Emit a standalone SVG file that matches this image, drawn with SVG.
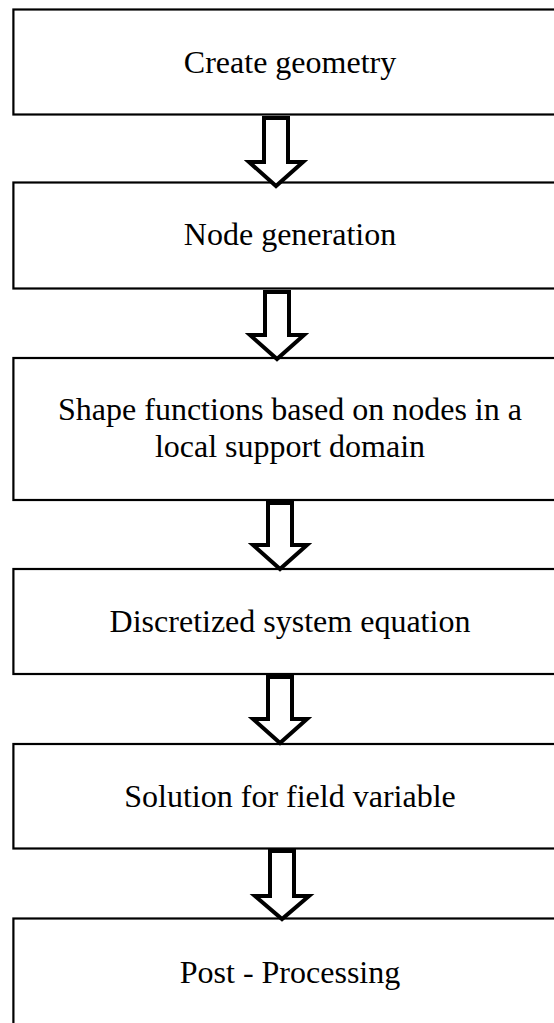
<svg xmlns="http://www.w3.org/2000/svg" width="554" height="1023" viewBox="0 0 554 1023">
  <style>
    .box { fill: #ffffff; stroke: #000000; stroke-width: 2.2; }
    .lbl { font-family: "Liberation Serif", "Times New Roman", serif; font-size: 32px; fill: #000000; text-anchor: middle; }
    .arrow { fill: #ffffff; stroke: #000000; stroke-width: 4; stroke-linejoin: miter; stroke-miterlimit: 10; }
  </style>
  <rect x="0" y="0" width="554" height="1023" fill="#ffffff"/>

  <!-- process steps -->
  <g id="step-create-geometry">
    <rect class="box" x="13.4" y="9.5" width="560" height="105"/>
    <text class="lbl" x="290" y="72.7">Create geometry</text>
  </g>
  <g id="step-node-generation">
    <rect class="box" x="13.4" y="182.5" width="560" height="106"/>
    <text class="lbl" x="290" y="245">Node generation</text>
  </g>
  <g id="step-shape-functions">
    <rect class="box" x="13.4" y="358" width="560" height="142"/>
    <text class="lbl" x="290" y="420">Shape functions based on nodes in a</text>
    <text class="lbl" x="290" y="456.7">local support domain</text>
  </g>
  <g id="step-system-equation">
    <rect class="box" x="13.4" y="569" width="560" height="105"/>
    <text class="lbl" x="290" y="631.7">Discretized system equation</text>
  </g>
  <g id="step-solution">
    <rect class="box" x="13.4" y="744" width="560" height="104.5"/>
    <text class="lbl" x="290" y="806.7">Solution for field variable</text>
  </g>
  <g id="step-post-processing">
    <rect class="box" x="13.4" y="918.5" width="560" height="120"/>
    <text class="lbl" x="290" y="983.3">Post - Processing</text>
  </g>

  <!-- block arrows between steps -->
  <g id="connectors">
    <path class="arrow" d="M264,118 H288 V162 H303 L276,186 L249,162 H264 Z"/>
    <path class="arrow" d="M265,292 H289 V335 H304 L277,359 L250,335 H265 Z"/>
    <path class="arrow" d="M268,503 H292 V545 H307 L280,569 L253,545 H268 Z"/>
    <path class="arrow" d="M268,677 H292 V719 H307 L280,743 L253,719 H268 Z"/>
    <path class="arrow" d="M270,851 H294 V896 H309 L282,919 L255,896 H270 Z"/>
  </g>
</svg>
